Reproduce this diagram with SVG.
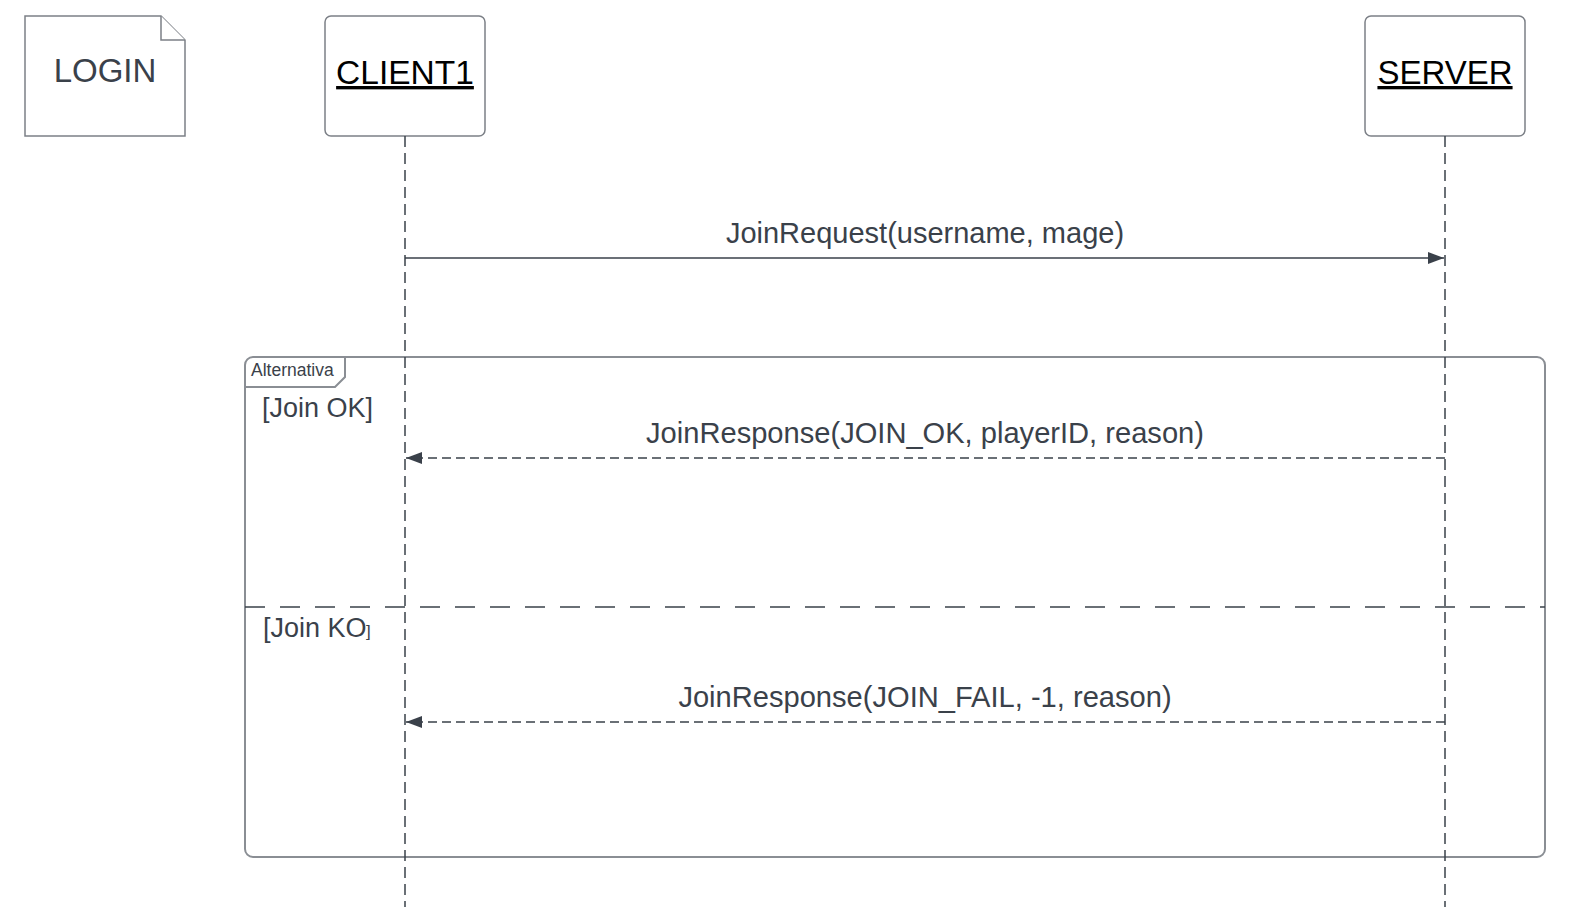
<svg xmlns="http://www.w3.org/2000/svg" width="1577" height="907" viewBox="0 0 1577 907">
<style>
.box{fill:#fff;stroke:#7c8087;stroke-width:1.5}
.frame{fill:none;stroke:#8a8e94;stroke-width:2}
.life{stroke:#3a414a;stroke-width:1.5;stroke-dasharray:11 6;fill:none}
.msg{stroke:#3a414a;stroke-width:1.5;fill:none}
.dmsg{stroke:#3a414a;stroke-width:1.5;fill:none;stroke-dasharray:9 5}
.div{stroke:#3a414a;stroke-width:1.5;fill:none;stroke-dasharray:20 15}
.t{font-family:"Liberation Sans",Arial,sans-serif;fill:#3a414a}
.u{font-family:"Liberation Sans",Arial,sans-serif;fill:#000;text-decoration:underline}
</style>
<defs>
<marker id="ah" viewBox="0 0 16 12" refX="16" refY="6" markerWidth="16" markerHeight="12" markerUnits="userSpaceOnUse" orient="auto">
<path d="M0,0 L16,6 L0,12 Z" fill="#3a414a"/>
</marker>
</defs>
<g id="login">
<path class="box" d="M25,16 H161 L185,40 V136 H25 Z"/>
<path class="box" d="M161,16 V40 H185" fill="none"/>
<text class="t" x="105" y="82" font-size="33" text-anchor="middle">LOGIN</text>
</g>
<g id="client1">
<rect class="box" x="325" y="16" width="160" height="120" rx="6"/>
<text class="u" x="405" y="84" font-size="33.5" text-anchor="middle">CLIENT1</text>
</g>
<g id="server">
<rect class="box" x="1365" y="16" width="160" height="120" rx="6"/>
<text class="u" x="1445" y="84" font-size="33" text-anchor="middle">SERVER</text>
</g>
<g id="alt-frame">
<rect class="frame" x="245" y="357" width="1300" height="500" rx="8"/>
<path class="frame" d="M245,387 H335 L345,377 V357"/>
<text class="t" x="251" y="376" font-size="17.5">Alternativa</text>
<line class="div" x1="245" y1="607" x2="1545" y2="607"/>
<text class="t" x="262" y="417" font-size="27">[Join OK]</text>
<text class="t" x="263" y="637" font-size="27">[Join KO</text>
<text class="t" x="366" y="637" font-size="17">]</text>
</g>
<g id="connectors">
<line class="life" x1="405" y1="136" x2="405" y2="907"/>
<line class="life" x1="1445" y1="136" x2="1445" y2="907"/>
<line class="msg" x1="405" y1="258" x2="1444" y2="258" marker-end="url(#ah)"/>
<text class="t" x="925" y="243" font-size="29" text-anchor="middle">JoinRequest(username, mage)</text>
<line class="dmsg" x1="1445" y1="458" x2="406" y2="458" marker-end="url(#ah)"/>
<text class="t" x="925" y="443" font-size="29.1" text-anchor="middle">JoinResponse(JOIN_OK, playerID, reason)</text>
<line class="dmsg" x1="1445" y1="722" x2="406" y2="722" marker-end="url(#ah)"/>
<text class="t" x="925" y="707" font-size="29.1" text-anchor="middle">JoinResponse(JOIN_FAIL, -1, reason)</text>
</g>
</svg>
